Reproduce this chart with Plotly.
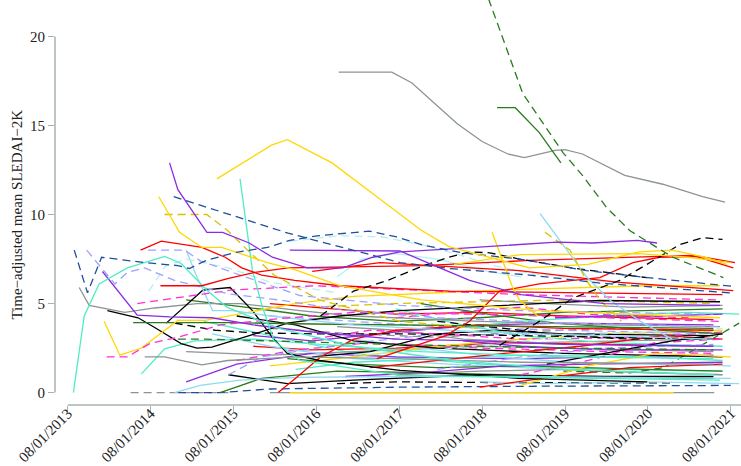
import plotly.graph_objects as go

# ---- colours / styles ----
GRAY = "#8C9494"
DKGREEN = "#2A7A1E"
GOLD = "#FFD700"
PURPLE = "#8A2BE2"
RED = "#FF0000"
TURQ = "#4EEDC4"
SKY = "#8FD9F2"
PCYAN = "#B4F0F0"
NAVY = "#1F4E9C"
LAV = "#A0A0FF"
MAG = "#FF2ED5"
BLACK = "#000000"
DGOLD = "#D6C200"
AXIS = "#A9B2B2"
S = "solid"
D = "8px,5px"

# ---- tick labels ----
tick_years = [2013, 2014, 2015, 2016, 2017, 2018, 2019, 2020, 2021]
tick_labels = ["08/01/%d" % y for y in tick_years]
y_ticks = [0, 5, 10, 15, 20]

# ---- per-patient series: (decimal year, time-adjusted mean SLEDAI-2K) ----
# background / dense patients
f01 = [(2015.22,4.0),(2016.02,3.2),(2017.03,2.2),(2018.55,1.6),(2020.06,1.3),(2021.48,1.2)]
f02 = [(2015.42,0.0),(2015.92,0.8),(2016.83,1.2),(2018.04,1.1),(2019.56,0.9),(2021.37,0.8)]
f03 = [(2015.01,2.3),(2016.02,2.1),(2017.54,2.4),(2018.55,2.6),(2019.56,2.5),(2021.37,2.3)]
f04 = [(2015.52,1.0),(2016.23,0.5),(2017.03,0.7),(2018.55,1.0),(2020.06,0.9),(2021.37,0.9)]
f05 = [(2015.01,0.6),(2015.62,1.6),(2016.53,2.2),(2017.54,2.0),(2019.05,1.9),(2021.37,2.1)]
f06 = [(2015.82,2.6),(2016.53,2.4),(2017.54,2.5),(2018.85,2.8),(2020.06,2.7),(2021.37,2.6)]
f07 = [(2015.62,1.8),(2016.33,2.4),(2017.23,2.8),(2018.55,2.5),(2020.06,2.3),(2021.37,2.2)]
f08 = [(2015.52,1.0),(2015.92,2.0),(2016.73,2.6),(2017.84,3.2),(2019.56,3.3),(2021.37,3.4)]
f09 = [(2015.32,3.3),(2016.02,2.6),(2017.03,1.9),(2018.55,1.5),(2020.06,1.2),(2021.48,1.0)]
f10 = [(2016.26,8.5),(2016.83,8.8),(2017.37,8.75),(2017.86,8.3),(2018.26,7.8),(2018.75,7.1),(2019.15,6.7),(2019.86,6.3),(2020.67,6.0),(2021.48,5.8)]
f11 = [(2016.02,1.5),(2017.03,2.0),(2018.04,2.6),(2019.05,3.0),(2020.06,3.3),(2021.48,3.5)]
f12 = [(2014.91,0.0),(2015.42,0.0),(2016.02,0.2),(2017.54,0.3),(2019.05,0.35),(2021.58,0.4)]
f13 = [(2016.83,0.5),(2017.54,0.6),(2019.05,0.55),(2020.87,0.55)]
f14 = [(2019.56,1.2),(2020.36,1.1),(2020.77,1.4),(2021.17,2.5),(2021.68,3.9)]
f15 = [(2016.02,3.6),(2017.03,3.3),(2018.04,3.1),(2019.05,3.4),(2020.06,3.6),(2021.37,3.5)]
f16 = [(2016.53,4.8),(2017.54,5.0),(2018.55,5.1),(2019.56,5.2),(2021.37,5.0)]
f17 = [(2016.33,1.3),(2017.03,1.7),(2018.04,1.9),(2019.05,2.1),(2020.57,2.0),(2021.48,1.8)]
f18 = [(2015.82,3.2),(2016.53,2.9),(2017.54,3.4),(2018.55,3.8),(2019.56,3.9),(2021.37,3.8)]
f19 = [(2016.02,5.0),(2016.83,4.7),(2017.54,4.4),(2018.55,4.5),(2019.56,4.3),(2021.37,4.1)]
f20 = [(2016.53,2.0),(2017.23,2.3),(2018.04,3.3),(2018.75,3.5),(2019.56,3.3),(2021.37,3.2)]
f21 = [(2016.83,3.7),(2017.54,3.5),(2018.35,3.0),(2019.25,2.8),(2020.26,2.9),(2021.27,3.0)]
f22 = [(2016.53,3.0),(2017.23,3.5),(2018.04,3.3),(2019.05,3.0),(2020.57,3.1),(2021.48,3.4)]
f23 = [(2017.03,3.0),(2017.84,2.5),(2018.75,2.0),(2019.66,1.7),(2021.58,1.5)]
f24 = [(2016.23,1.9),(2017.03,1.6),(2018.04,1.4),(2019.05,1.5),(2020.57,1.3),(2021.48,1.2)]
f25 = [(2016.02,4.3),(2017.03,4.0),(2018.04,3.7),(2019.56,3.5),(2021.37,3.3)]
f26 = [(2017.54,4.7),(2018.24,3.9),(2019.05,3.2),(2020.06,2.8),(2021.48,2.6)]
f27 = [(2016.93,0.9),(2017.84,1.1),(2018.85,1.5),(2019.86,1.6),(2021.48,1.7)]
f28 = [(2015.62,4.3),(2016.33,3.8),(2017.03,2.9),(2018.04,2.5),(2019.56,2.2),(2021.48,2.0)]
f29 = [(2017.23,1.4),(2018.04,1.8),(2018.85,2.2),(2019.76,2.6),(2020.77,3.2),(2021.48,3.0)]
f30 = [(2017.54,4.2),(2018.24,4.5),(2019.05,4.8),(2019.86,4.4),(2021.07,4.2)]
f31 = [(2017.54,1.0),(2018.55,1.2),(2019.56,1.3),(2020.57,1.1),(2021.48,1.0)]
f32 = [(2017.03,2.1),(2018.04,2.4),(2019.05,2.9),(2020.06,3.3),(2021.48,3.6)]
f33 = [(2018.04,4.0),(2018.85,3.6),(2019.56,3.2),(2020.36,3.0),(2021.27,3.1)]
f34 = [(2017.84,5.0),(2018.65,4.4),(2019.46,3.9),(2020.36,3.6),(2021.48,3.3)]
f35 = [(2018.55,0.6),(2019.36,0.5),(2020.57,0.6),(2021.68,0.5)]
f36 = [(2018.35,2.9),(2019.05,2.6),(2020.06,2.4),(2021.48,2.4)]
f37 = [(2018.55,0.3),(2019.46,0.9),(2020.36,1.4),(2021.48,1.6)]
f38 = [(2018.04,1.3),(2019.05,2.0),(2020.06,2.5),(2021.37,2.7)]
f39 = [(2018.24,3.6),(2019.05,4.0),(2020.06,4.3),(2021.07,4.5),(2021.68,4.4)]
f40 = [(2019.05,0.4),(2019.86,1.5),(2020.67,2.2),(2021.58,2.0)]
f41 = [(2018.55,5.2),(2019.36,5.0),(2020.36,4.8),(2021.48,4.9)]
f42 = [(2019.05,1.0),(2019.86,1.8),(2020.67,2.8),(2021.48,3.0)]
f43 = [(2019.36,1.6),(2020.06,2.2),(2020.87,2.9),(2021.48,3.3)]
f44 = [(2015.01,5.2),(2015.72,4.8),(2016.53,4.3),(2017.54,4.0),(2018.55,4.2),(2019.56,4.5),(2021.48,4.7)]
f45 = [(2019.46,4.2),(2020.06,4.3),(2020.67,4.3),(2021.48,4.4)]
f46 = [(2014.34,0.0),(2015.52,0.0)]
f47 = [(2016.02,0.0),(2021.38,0.0)]
f48 = [(2014.87,0.0),(2015.18,0.4),(2015.66,0.7),(2016.38,0.85),(2017.54,0.9),(2019.05,0.9),(2021.58,0.8)]
f49 = [(2016.12,0.0),(2016.33,0.8),(2016.63,2.0),(2017.03,3.0),(2017.54,3.5),(2018.55,3.8),(2019.56,3.6),(2021.37,3.5)]
f50 = [(2014.47,1.05),(2014.75,2.45),(2015.11,2.9),(2015.82,3.0),(2016.63,2.7),(2017.84,2.3),(2019.56,2.0),(2021.37,1.9)]

# prominent patients
p01 = [(2016.85,18.0),(2017.49,18.0),(2017.73,17.4),(2018.28,15.1),(2018.58,14.1),(2018.89,13.4),(2019.09,13.2),(2019.46,13.6),(2019.58,13.65),(2019.79,13.4),(2020.30,12.2),(2020.76,11.7),(2021.24,11.0),(2021.51,10.7)]
p02 = [(2018.55,23.5),(2019.07,16.8),(2019.56,13.45),(2019.79,12.2),(2020.08,10.4),(2020.36,9.1),(2020.88,7.6),(2021.49,6.46)]
p03 = [(2018.76,16.0),(2018.98,16.0),(2019.27,14.6),(2019.44,13.5),(2019.53,12.9)]
p04 = [(2015.38,12.0),(2016.04,13.9),(2016.23,14.2),(2016.77,12.9),(2017.31,11.0),(2017.85,9.1),(2018.18,8.2),(2018.43,7.9),(2019.15,7.0),(2019.86,7.2),(2020.47,7.9),(2020.87,8.0),(2021.27,7.6),(2021.53,7.2)]
p05 = [(2013.65,0.0),(2013.78,4.3),(2013.96,6.1),(2014.30,7.0),(2014.75,7.65),(2014.95,7.25),(2015.26,5.75),(2015.50,4.8),(2016.13,3.6),(2017.03,2.6),(2018.24,1.8),(2019.56,1.3),(2021.37,1.0)]
p06 = [(2013.66,8.0),(2013.82,5.6),(2013.99,7.6),(2014.51,7.3),(2014.91,7.13),(2015.05,6.97),(2015.24,7.4),(2015.60,7.87),(2015.99,8.15),(2016.26,8.55),(2016.59,8.8),(2017.22,9.07),(2017.55,8.74),(2017.86,8.29),(2018.35,7.84),(2019.03,7.5),(2019.84,6.85),(2020.57,6.46),(2021.61,5.96)]
p07 = [(2014.86,11.0),(2015.20,10.5),(2015.68,9.8),(2016.24,8.95),(2017.02,8.0),(2017.59,7.3),(2018.18,6.97),(2019.15,6.6),(2020.00,6.15),(2021.57,5.6)]
p08 = [(2014.81,12.9),(2014.91,11.4),(2015.26,9.0),(2015.45,9.0),(2015.77,8.4),(2016.05,7.6),(2016.47,7.0),(2016.90,7.0),(2017.26,7.6),(2017.59,7.9),(2018.31,8.1),(2019.48,8.45),(2019.91,8.4),(2020.45,8.55),(2020.69,8.4)]
p09 = [(2016.26,8.0),(2017.02,7.95),(2017.59,7.95),(2018.07,7.0),(2018.43,6.3),(2019.05,5.5),(2020.06,5.0),(2021.45,4.9)]
p10 = [(2014.68,11.0),(2014.93,9.0),(2015.20,8.15),(2015.44,8.15),(2015.99,7.3),(2016.32,6.9),(2016.86,6.0),(2017.85,5.2),(2019.27,4.6),(2021.45,4.2)]
p11 = [(2014.75,10.0),(2015.26,10.0),(2015.51,9.1),(2015.75,8.0),(2016.07,6.6),(2016.62,5.2),(2017.59,4.0),(2018.55,3.6)]
p12 = [(2014.46,8.0),(2014.71,8.5),(2015.20,8.15),(2015.48,7.6),(2015.68,7.0),(2015.92,6.6),(2016.32,6.3),(2016.86,6.0),(2018.18,5.7),(2019.56,5.6),(2021.48,5.5)]
p13 = [(2014.70,6.0),(2015.20,6.0),(2015.51,6.4),(2015.84,6.75),(2016.24,7.0),(2017.86,7.13),(2019.15,7.42),(2020.64,7.6),(2021.12,7.7),(2021.61,7.0)]
p14 = [(2016.53,6.8),(2017.35,7.3),(2019.03,6.85),(2020.20,6.2),(2021.61,5.73)]
p15 = [(2017.31,1.9),(2018.14,3.2),(2018.43,4.0),(2018.79,5.7),(2019.27,6.1),(2020.00,6.46),(2020.40,7.3),(2020.72,7.6),(2021.20,7.65),(2021.63,7.3)]
p16 = [(2018.79,2.65),(2019.27,4.0),(2019.67,5.3),(2020.24,6.3),(2020.64,7.4),(2020.96,8.3),(2021.24,8.7),(2021.48,8.6)]
p17 = [(2016.63,4.3),(2017.03,5.7),(2017.44,6.3),(2017.86,7.1),(2018.18,7.6),(2018.43,7.9),(2018.67,7.85),(2019.03,7.5),(2019.66,7.0),(2020.57,6.45)]
p18 = [(2019.28,10.05),(2019.52,8.55),(2019.84,6.5),(2020.12,5.2),(2020.49,4.0),(2020.87,3.0)]
p19 = [(2019.34,9.0),(2019.64,8.0),(2019.84,6.3),(2020.00,5.2),(2020.26,4.0)]
p20 = [(2018.70,9.0),(2018.83,7.4),(2018.94,6.0),(2019.03,5.2),(2019.25,4.3)]
p21 = [(2015.66,12.0),(2015.81,6.85),(2015.93,4.8),(2016.07,2.9),(2016.38,1.8),(2017.59,0.96),(2020.00,0.8),(2021.45,0.7)]
p22 = [(2013.81,8.0),(2014.15,6.1),(2014.30,6.75),(2014.51,7.0),(2014.87,6.3),(2015.20,5.9),(2015.51,5.55),(2016.13,5.2),(2016.98,4.6),(2018.04,4.2),(2019.56,3.9),(2021.45,3.7)]
p23 = [(2014.55,8.0),(2014.99,8.0),(2015.18,7.4),(2015.66,6.6),(2016.38,5.45),(2017.59,4.9),(2019.05,4.6),(2021.37,4.4)]
p24 = [(2014.05,2.0),(2014.30,2.0),(2014.57,2.75),(2014.91,3.1),(2015.42,3.8),(2016.13,4.15),(2017.03,4.5),(2018.55,4.4),(2020.06,4.2),(2021.45,4.0)]
p25 = [(2014.42,5.0),(2014.93,5.35),(2015.54,5.75),(2016.56,6.0),(2017.54,5.8),(2019.05,5.5),(2021.45,5.2)]
p26 = [(2013.72,5.9),(2013.84,4.9),(2014.27,4.5),(2014.63,4.75),(2015.14,5.0),(2015.66,5.0),(2016.38,4.6),(2017.03,4.3),(2018.55,4.0),(2020.06,3.8),(2021.45,3.7)]
p27 = [(2014.06,4.6),(2014.43,4.2),(2014.63,3.65),(2014.95,2.75),(2015.14,2.5),(2015.32,2.55),(2015.84,3.3),(2016.23,3.9),(2016.86,4.3),(2017.59,4.6),(2020.00,5.17),(2021.45,5.1)]
p28 = [(2014.77,3.9),(2015.21,5.75),(2015.54,5.9),(2015.81,4.6),(2016.05,3.1),(2016.23,2.2),(2016.62,1.8),(2017.59,1.25),(2019.03,0.8),(2020.57,0.6)]
p29 = [(2014.37,3.93),(2015.52,3.93),(2016.53,3.85),(2017.59,3.8),(2019.05,3.7),(2021.37,3.6)]
p30 = [(2014.91,3.0),(2015.24,3.0),(2016.02,2.9),(2017.54,2.7),(2019.56,2.5),(2021.37,2.4)]
p31 = [(2014.51,2.0),(2014.75,2.0),(2015.20,1.55),(2015.51,1.8),(2016.33,2.0),(2017.54,1.9),(2019.05,1.7),(2021.37,1.6)]
p32 = [(2014.87,3.9),(2015.36,3.5),(2015.84,3.35),(2016.53,3.3),(2017.54,3.3),(2019.05,3.2),(2021.37,3.0)]
p33 = [(2014.02,4.0),(2014.21,2.1),(2014.47,2.5),(2014.91,4.05),(2015.24,4.05),(2015.84,4.6),(2016.32,5.0),(2017.03,5.4),(2018.04,5.6),(2019.05,5.8),(2020.57,6.0),(2021.45,6.0)]
p34 = [(2018.24,7.2),(2019.05,7.75),(2020.47,7.8),(2021.07,7.6),(2021.58,7.3)]
p35 = [(2015.01,8.0),(2015.13,6.6),(2015.33,4.6),(2015.57,4.6),(2016.02,4.3),(2017.03,3.8),(2018.55,3.4),(2021.37,3.0)]
p36 = [(2014.00,6.8),(2014.21,5.6),(2014.42,4.35),(2014.81,4.25),(2015.32,4.2),(2015.82,3.8),(2016.53,3.4),(2017.54,3.0),(2018.55,2.9),(2019.56,2.7),(2021.37,2.6)]
p37 = [(2014.56,5.7),(2014.76,7.1),(2015.01,7.5),(2015.52,7.0),(2016.02,6.2),(2016.83,5.6)]
p38 = [(2016.83,6.5),(2017.13,7.5),(2017.54,7.8),(2018.04,7.5),(2018.65,6.8),(2019.05,6.5)]
p39 = [(2016.26,0.0),(2020.89,0.0)]

# draw order and styles (background first, prominent last)
series = [
    (f47, GRAY, S), (f46, GRAY, D), (f12, NAVY, D),
    (f01, TURQ, S), (f02, DKGREEN, S), (f03, GRAY, S), (f04, BLACK, S), (f05, PURPLE, S),
    (f06, RED, S), (f07, MAG, D), (f08, LAV, D), (f09, SKY, S), (f11, GOLD, S),
    (f13, BLACK, D), (f14, DKGREEN, D), (f15, GRAY, D), (f16, DGOLD, D), (f17, TURQ, S),
    (f18, PURPLE, S), (f19, RED, S), (f20, BLACK, S), (f21, GRAY, S), (f22, MAG, D),
    (f23, SKY, S), (f24, DKGREEN, S), (f25, LAV, D), (f26, TURQ, S), (f27, PURPLE, S),
    (f28, BLACK, S), (f29, RED, S), (f30, MAG, D), (f31, GRAY, S), (f32, PCYAN, D),
    (f33, BLACK, D), (f34, DKGREEN, S), (f35, SKY, S), (f36, PURPLE, S), (f37, RED, S),
    (f38, LAV, D), (f39, TURQ, S), (f40, GOLD, S), (f41, GRAY, S), (f42, MAG, D),
    (f43, BLACK, S), (f44, DKGREEN, S), (f45, PURPLE, S), (f48, SKY, S), (f49, RED, S),
    (f50, TURQ, S), (f10, PCYAN, D),
    (p39, GOLD, S),
    (p26, GRAY, S), (p27, BLACK, S), (p28, BLACK, S), (p29, DKGREEN, S), (p30, DKGREEN, D),
    (p31, GRAY, S), (p32, BLACK, D), (p33, GOLD, S), (p35, SKY, S), (p36, PURPLE, S),
    (p37, PCYAN, D), (p38, PCYAN, S), (p24, MAG, D), (p25, MAG, D), (p22, LAV, D),
    (p23, LAV, D), (p21, TURQ, S), (p05, TURQ, S), (p12, RED, S), (p13, RED, S),
    (p14, RED, S), (p15, RED, S), (p17, BLACK, D), (p16, BLACK, D), (p18, SKY, S),
    (p19, DGOLD, D), (p20, GOLD, S), (p11, DGOLD, D), (p10, GOLD, S), (p34, GOLD, S),
    (p09, PURPLE, S), (p08, PURPLE, S), (p07, NAVY, D), (p06, NAVY, D), (p04, GOLD, S),
    (p01, GRAY, S), (p03, DKGREEN, S), (p02, DKGREEN, D),
]

fig = go.Figure()
for pts, color, dash in series:
    fig.add_trace(go.Scatter(
        x=[p[0] for p in pts], y=[p[1] for p in pts], mode="lines",
        line=dict(color=color, width=1.3, dash=dash),
        hoverinfo="skip", showlegend=False,
    ))

tick_pos = [y + 212 / 365 for y in tick_years]
x_range = [tick_pos[0] - 0.153, tick_pos[-1] + 0.122]
FONT = "Liberation Serif, Times New Roman, serif"

fig.update_layout(
    width=741, height=466,
    margin=dict(l=55, r=0, t=0, b=61),
    paper_bgcolor="white", plot_bgcolor="white",
    font=dict(family=FONT, size=15, color="#222222"),
    xaxis=dict(
        range=x_range,
        tickmode="array", tickvals=tick_pos, ticktext=tick_labels,
        tickangle=-45, ticks="outside", ticklen=6, tickwidth=1.3, tickcolor=AXIS,
        ticklabelstandoff=-13, ticklabeloverflow="allow",
        showgrid=False, zeroline=False, showline=False, automargin=False,
        tickfont=dict(family=FONT, size=15, color="#222222"),
    ),
    yaxis=dict(
        range=[-0.70, 22.05],
        tickmode="array", tickvals=y_ticks,
        ticks="outside", ticklen=6, tickwidth=1.3, tickcolor=AXIS,
        showgrid=False, zeroline=False, showline=False, automargin=False,
        tickfont=dict(family=FONT, size=15, color="#222222"),
    ),
    shapes=[
        dict(type="line", xref="paper", yref="y", x0=0, x1=0, y0=y_ticks[0], y1=y_ticks[-1],
             line=dict(color=AXIS, width=1.5)),
        dict(type="line", xref="x", yref="paper", x0=tick_pos[0], x1=x_range[1], y0=0, y1=0,
             line=dict(color=AXIS, width=1.5)),
    ],
    annotations=[
        dict(text="Time\u2212adjusted mean SLEDAI\u22122K", xref="paper", yref="y",
             x=-0.0554, y=10, textangle=-90, showarrow=False,
             xanchor="center", yanchor="middle",
             font=dict(family=FONT, size=15, color="#222222")),
    ],
)

fig.write_html(
    "out.html",
    config={"displayModeBar": False},
    post_script="document.body.style.margin='0';document.body.style.padding='0';",
)
